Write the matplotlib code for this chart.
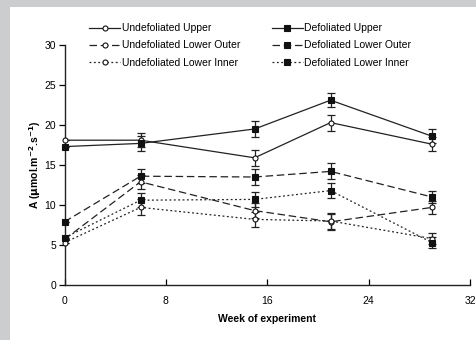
import matplotlib
matplotlib.use("Agg")
import matplotlib.pyplot as plt
from matplotlib.patches import Rectangle

plt.rcParams["font.family"] = ["Liberation Sans", "DejaVu Sans"]

weeks = [0, 6, 15, 21, 29]

undef_upper = [18.1, 18.1, 15.9, 20.3, 17.6]
undef_upper_err = [0, 0.9, 1.0, 1.0, 0.9]
def_upper = [17.3, 17.7, 19.5, 23.1, 18.6]
def_upper_err = [0, 0.9, 1.0, 0.9, 0.9]

undef_lower_outer = [5.7, 12.9, 9.3, 7.9, 9.7]
undef_lower_outer_err = [0, 0.9, 0.9, 1.0, 0.8]
def_lower_outer = [7.9, 13.6, 13.5, 14.2, 11.0]
def_lower_outer_err = [0, 0.9, 1.0, 1.0, 0.8]

undef_lower_inner = [5.3, 9.7, 8.2, 8.0, 5.8]
undef_lower_inner_err = [0, 1.0, 0.9, 1.0, 0.7]
def_lower_inner = [5.9, 10.6, 10.7, 11.8, 5.3]
def_lower_inner_err = [0, 0.9, 0.9, 0.95, 0.7]

series = [
    ("Undefoliated Upper", undef_upper, undef_upper_err, "-", "o", "white"),
    ("Defoliated Upper", def_upper, def_upper_err, "-", "s", "#111111"),
    ("Undefoliated Lower Outer", undef_lower_outer, undef_lower_outer_err, (0, (6, 3)), "o", "white"),
    ("Defoliated Lower Outer", def_lower_outer, def_lower_outer_err, (0, (6, 3)), "s", "#111111"),
    ("Undefoliated Lower Inner", undef_lower_inner, undef_lower_inner_err, (0, (1.5, 2)), "o", "white"),
    ("Defoliated Lower Inner", def_lower_inner, def_lower_inner_err, (0, (1.5, 2)), "s", "#111111"),
]

fig = plt.figure(figsize=(4.76, 3.40), dpi=100, facecolor="#cbcdcf")
fig.patches.append(Rectangle((10 / 476, 0), 1, 1 - 7 / 340,
                             transform=fig.transFigure, facecolor="white",
                             edgecolor="none", zorder=-5))

ax = fig.add_axes([64.5 / 476, (340 - 285) / 340, (470 - 64.5) / 476, (285 - 45) / 340])
ax.set_facecolor("none")
ax.set_zorder(1)

handles = []
for label, vals, errs, ls, mk, fc in series:
    ax.errorbar(weeks, vals, yerr=errs, color="#222222", ecolor="#222222",
                elinewidth=0.9, capsize=3, capthick=0.9, linewidth=0, zorder=2)
    line, = ax.plot(weeks, vals, linestyle=ls, color="#222222", linewidth=0.9,
                    marker=mk, markersize=3.6 if mk == "o" else 5,
                    markerfacecolor=fc, markeredgecolor="#111111",
                    markeredgewidth=0.8, label=label, zorder=3, clip_on=False)
    handles.append(line)

ax.set_xlim(0, 32)
ax.set_ylim(0, 30)
ax.set_xticks([0, 8, 16, 24, 32])
ax.set_yticks([0, 5, 10, 15, 20, 25, 30])
for s in ("top", "right"):
    ax.spines[s].set_visible(False)
for s in ("left", "bottom"):
    ax.spines[s].set_linewidth(1.0)
    ax.spines[s].set_color("#222222")
ax.tick_params(axis="x", direction="in", length=4, width=0.9, labelsize=7.5, pad=8)
ax.tick_params(axis="y", direction="out", length=4, width=0.9, labelsize=7.5, pad=2)

ax.set_xlabel("Week of experiment", fontsize=7.5, fontweight="bold", labelpad=6)
ax.set_ylabel(r"A ($\mathbf{\mu}$mol.m$^{\mathbf{-2}}$.s$^{\mathbf{-1}}$)",
              fontsize=7.5, fontweight="bold", labelpad=1)

order = [handles[0], handles[2], handles[4], handles[1], handles[3], handles[5]]
fig.legend(handles=order, labels=[h.get_label() for h in order], ncol=2,
           loc="upper left", bbox_to_anchor=(84 / 476, 1 - 18 / 340),
           frameon=False, fontsize=7.5, handlelength=3.0, handletextpad=0.15,
           columnspacing=3.0, labelspacing=0.7, borderpad=0)

fig.savefig("out.png", dpi=100, facecolor=fig.get_facecolor())
